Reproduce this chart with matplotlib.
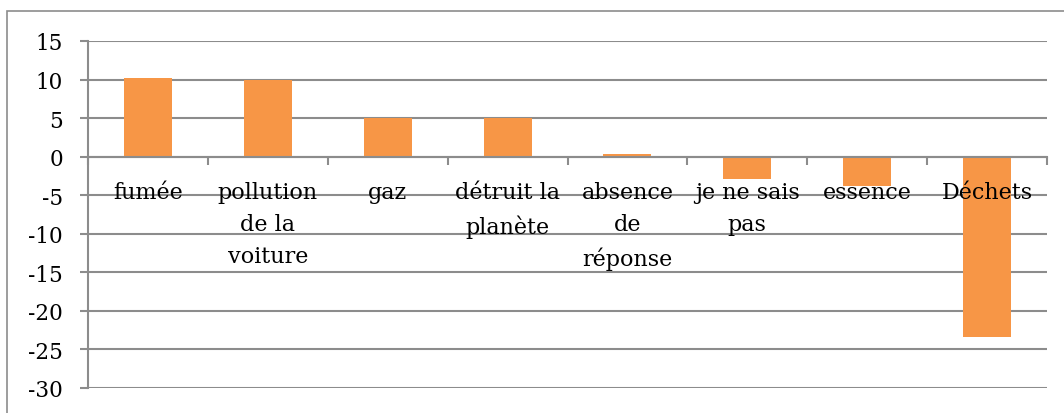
import numpy as np
import matplotlib.pyplot as plt
from matplotlib.patches import Rectangle

# Données
categories = ["fumée", "pollution\nde la\nvoiture", "gaz", "détruit la\nplanète",
              "absence\nde\nréponse", "je ne sais\npas", "essence", "Déchets"]
valeurs = [10.15, 10.0, 5.0, 5.0, 0.4, -2.85, -3.8, -23.4]

plt.rcParams['font.family'] = ['DejaVu Serif']
plt.rcParams['axes.unicode_minus'] = False
gris = '#8c8c8c'

fig = plt.figure(figsize=(10.64, 4.14), dpi=100)
ax = fig.add_axes([88 / 1064, 25 / 414, 959 / 1064, 347 / 414])

x = np.arange(len(categories))
ax.bar(x, valeurs, width=0.4, color='#F79646', zorder=3)

ax.set_xlim(-0.5, len(categories) - 0.5)
ax.set_ylim(-30, 15)
ax.set_yticks(np.arange(-30, 16, 5))
ax.grid(axis='y', color=gris, linewidth=1.5, zorder=0)
ax.set_axisbelow(True)

# axe des catégories sur le zéro
for s in ['top', 'right']:
    ax.spines[s].set_visible(False)
ax.spines['bottom'].set_position(('data', 0))
ax.spines['bottom'].set_color(gris)
ax.spines['bottom'].set_linewidth(1.5)
ax.spines['bottom'].set_zorder(4)
ax.spines['left'].set_color(gris)
ax.spines['left'].set_linewidth(1.5)

ax.set_xticks(np.arange(-0.5, len(categories), 1))
ax.set_xticklabels([])
ax.tick_params(axis='x', length=6, width=1.5, color=gris, direction='out')
ax.tick_params(axis='y', length=6, width=1.5, color=gris, pad=12, labelsize=15.5)

# étiquettes par-dessus les barres
for xi, cat in zip(x, categories):
    ax.annotate(cat, (xi, 0), xytext=(0, -17.5), textcoords='offset points',
                ha='center', va='top', fontsize=16, linespacing=1.6,
                zorder=6, annotation_clip=False)

# cadre extérieur
fig.patches.append(Rectangle((7 / 1064, -0.2), 1.2, 1.2 - 12 / 414,
                             transform=fig.transFigure, fill=False,
                             edgecolor=gris, linewidth=1.2))

fig.savefig('out.png', dpi=100)
